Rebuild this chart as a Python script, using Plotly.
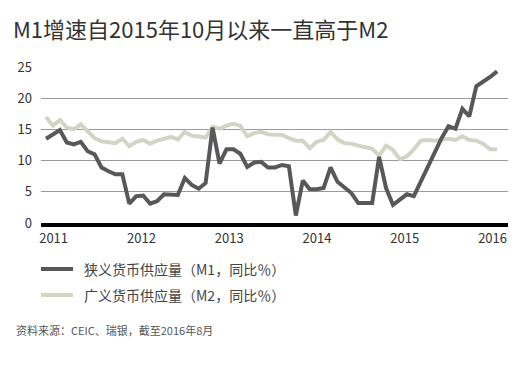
import plotly.graph_objects as go

# Monthly data, Jan 2011 - Jun 2016 (year-on-year %)
m1_values = [
    13.5, 14.2, 14.9, 12.9, 12.6, 13.0, 11.5, 11.0, 8.9, 8.3, 7.8, 7.8,
    3.1, 4.3, 4.4, 3.1, 3.5, 4.6, 4.6, 4.5, 7.2, 6.1, 5.5, 6.4,
    15.3, 9.5, 11.8, 11.8, 11.1, 9.0, 9.7, 9.8, 8.9, 8.9, 9.3, 9.1,
    1.2, 6.8, 5.4, 5.4, 5.6, 8.9, 6.6, 5.7, 4.8, 3.2, 3.2, 3.2,
    10.6, 5.6, 2.9, 3.7, 4.6, 4.3, 6.6, 9.0, 11.2, 13.6, 15.5, 15.1,
    18.3, 17.1, 21.9, 22.6, 23.4, 24.3,
]
m2_values = [
    17.0, 15.6, 16.5, 15.3, 15.0, 15.8, 14.7, 13.6, 13.1, 12.9, 12.8, 13.5,
    12.3, 13.0, 13.3, 12.7, 13.2, 13.5, 13.8, 13.4, 14.6, 14.0, 13.8, 13.7,
    15.4, 15.1, 15.6, 15.9, 15.6, 13.9, 14.4, 14.6, 14.2, 14.2, 14.1, 13.6,
    13.2, 13.2, 12.0, 13.0, 13.3, 14.6, 13.4, 12.8, 12.7, 12.4, 12.1, 11.9,
    10.8, 12.4, 11.7, 10.2, 10.7, 11.8, 13.2, 13.3, 13.2, 13.4, 13.5, 13.3,
    13.9, 13.3, 13.2, 12.7, 11.8, 11.8,
]
month_index = list(range(len(m1_values)))
year_labels = ["2011", "2012", "2013", "2014", "2015", "2016"]
y_ticks = [0, 5, 10, 15, 20, 25]

m1_name = "狭义货币供应量（M1，同比％）"
m2_name = "广义货币供应量（M2，同比％）"
title_text = "M1增速自2015年10月以来一直高于M2"
source_text = "资料来源：CEIC、瑞银，截至2016年8月"

FONT = "Noto Sans CJK SC"
M1_COLOR = "#58585a"
M2_COLOR = "#d4d4c6"

# page body has an 8px margin; lay the figure out so it lands where the reference does
OFF = 8
W, H = 524 - OFF, 382 - OFF
plot_x0, plot_x1 = 41 - OFF, 508 - OFF
plot_y0, plot_y1 = 67 - OFF, 223 - OFF
left, right, top, bottom = plot_x0, W - plot_x1, plot_y0, H - plot_y1
plot_w = W - left - right
plot_h = H - top - bottom


def px_x(px):
    return (px - OFF - left) / plot_w


def px_y(py):
    return (H - bottom - (py - OFF)) / plot_h


fig = go.Figure()
fig.add_trace(go.Scatter(
    x=month_index, y=m2_values, name=m2_name, mode="lines",
    line=dict(color=M2_COLOR, width=4),
))
fig.add_trace(go.Scatter(
    x=month_index, y=m1_values, name=m1_name, mode="lines",
    line=dict(color=M1_COLOR, width=4),
))

# manual legend (layout decoration)
legend_items = [(m1_name, M1_COLOR, 269), (m2_name, M2_COLOR, 295)]
shapes = []
annotations = []
for name, color, ypx in legend_items:
    shapes.append(dict(type="line", xref="paper", yref="paper",
                       x0=px_x(41), x1=px_x(73), y0=px_y(ypx), y1=px_y(ypx),
                       line=dict(color=color, width=4)))
    annotations.append(dict(text=name, xref="paper", yref="paper",
                            x=px_x(82), xanchor="left", y=px_y(ypx), yanchor="middle",
                            showarrow=False,
                            font=dict(size=14, color="#444444", family=FONT)))
annotations.append(dict(
    text=source_text, xref="paper", yref="paper",
    x=px_x(14), xanchor="left", y=px_y(330), yanchor="middle",
    showarrow=False, font=dict(size=11, color="#555555", family=FONT),
))

fig.update_layout(
    width=W, height=H,
    margin=dict(l=left, r=right, t=top, b=bottom, autoexpand=False),
    paper_bgcolor="white", plot_bgcolor="white",
    font=dict(family=FONT, color="#333333"),
    title=dict(text=title_text, x=(13 - OFF) / W, xanchor="left", xref="container",
               y=1 - (30 - OFF) / H, yanchor="middle", yref="container",
               font=dict(size=22, color="#333333", family=FONT)),
    showlegend=False,
    xaxis=dict(
        range=[-0.72, 66.57], automargin=False,
        tickmode="array",
        tickvals=[1.1 + 12.65 * k for k in range(len(year_labels))],
        ticktext=year_labels,
        showgrid=False, zeroline=False,
        showline=True, linecolor="#000000", linewidth=4,
        ticks="", tickfont=dict(size=13, color="#333333", family=FONT),
    ),
    yaxis=dict(
        range=[0, 25], automargin=False,
        tickmode="array", tickvals=y_ticks,
        showgrid=True, gridcolor="#9a9a9a", gridwidth=1,
        zeroline=False, showline=False, ticks="",
        ticklabelstandoff=8,
        tickfont=dict(size=13, color="#333333", family=FONT),
    ),
    shapes=shapes,
    annotations=annotations,
)

fig.write_html("out.html")
